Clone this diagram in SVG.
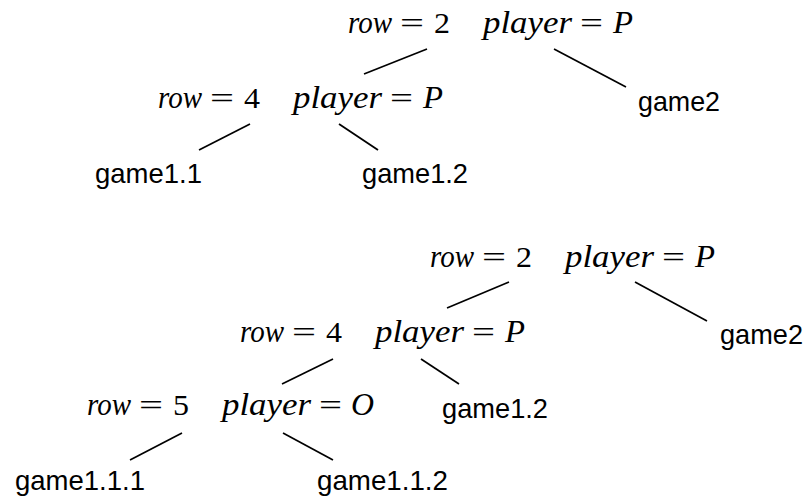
<svg xmlns="http://www.w3.org/2000/svg" width="805" height="500" viewBox="0 0 805 500">
  <style>
    .bg { fill: #ffffff; }
    .mi { font-family: "Liberation Serif", "Times New Roman", serif; font-style: italic; font-size: 31px; fill: #000; }
    .mr { font-family: "Liberation Serif", "Times New Roman", serif; font-size: 30px; fill: #000; }
    .leaf { font-family: "Liberation Sans", Arial, sans-serif; font-size: 28px; fill: #000; }
    .edge { stroke: #000; stroke-width: 1.7; fill: none; stroke-linecap: butt; }
  </style>
  <defs>
    <!-- "row = N  player = X" label pieces, drawn from the label's left edge at the baseline -->
    <g id="eq-row"><text class="mi" x="0" y="0" textLength="44" lengthAdjust="spacingAndGlyphs">row</text><text class="mr" x="52" y="0" textLength="24" lengthAdjust="spacingAndGlyphs">=</text></g>
    <g id="eq-player"><text class="mi" x="135" y="0" textLength="89" lengthAdjust="spacingAndGlyphs">player</text><text class="mr" x="232" y="0" textLength="23" lengthAdjust="spacingAndGlyphs">=</text></g>
  </defs>
  <rect class="bg" x="0" y="0" width="805" height="500"/>

  <!-- first tree -->
  <g id="connectors-a">
    <line class="edge" x1="427" y1="49" x2="364" y2="74"/>
    <line class="edge" x1="554" y1="49" x2="626" y2="87"/>
    <line class="edge" x1="250" y1="124" x2="199" y2="150"/>
    <line class="edge" x1="339" y1="124" x2="378" y2="150"/>
  </g>
  <g id="a-root" transform="translate(348,33)">
    <use href="#eq-row"/>
    <text class="mr" x="86" y="0" textLength="16" lengthAdjust="spacingAndGlyphs">2</text>
    <use href="#eq-player"/>
    <text class="mi" x="265" y="0" textLength="20" lengthAdjust="spacingAndGlyphs">P</text>
  </g>
  <g id="a-row4" transform="translate(158,108)">
    <use href="#eq-row"/>
    <text class="mr" x="86" y="0" textLength="16" lengthAdjust="spacingAndGlyphs">4</text>
    <use href="#eq-player"/>
    <text class="mi" x="265" y="0" textLength="20" lengthAdjust="spacingAndGlyphs">P</text>
  </g>
  <g id="a-game2"><text class="leaf" x="638" y="111" textLength="82" lengthAdjust="spacingAndGlyphs">game2</text></g>
  <g id="a-game1-1"><text class="leaf" x="95" y="183" textLength="107" lengthAdjust="spacingAndGlyphs">game1.1</text></g>
  <g id="a-game1-2"><text class="leaf" x="362" y="183" textLength="106" lengthAdjust="spacingAndGlyphs">game1.2</text></g>

  <!-- second tree -->
  <g id="connectors-b">
    <line class="edge" x1="509" y1="282" x2="447" y2="308"/>
    <line class="edge" x1="635" y1="282" x2="707" y2="321"/>
    <line class="edge" x1="333" y1="359" x2="282" y2="384"/>
    <line class="edge" x1="421" y1="359" x2="459" y2="384"/>
    <line class="edge" x1="182" y1="433" x2="130" y2="460"/>
    <line class="edge" x1="283" y1="433" x2="333" y2="460"/>
  </g>
  <g id="b-root" transform="translate(430,267)">
    <use href="#eq-row"/>
    <text class="mr" x="86" y="0" textLength="16" lengthAdjust="spacingAndGlyphs">2</text>
    <use href="#eq-player"/>
    <text class="mi" x="265" y="0" textLength="20" lengthAdjust="spacingAndGlyphs">P</text>
  </g>
  <g id="b-row4" transform="translate(240,342)">
    <use href="#eq-row"/>
    <text class="mr" x="86" y="0" textLength="16" lengthAdjust="spacingAndGlyphs">4</text>
    <use href="#eq-player"/>
    <text class="mi" x="265" y="0" textLength="20" lengthAdjust="spacingAndGlyphs">P</text>
  </g>
  <g id="b-row5" transform="translate(87,415)">
    <use href="#eq-row"/>
    <text class="mr" x="86" y="0" textLength="16" lengthAdjust="spacingAndGlyphs">5</text>
    <use href="#eq-player"/>
    <text class="mi" x="264" y="0" textLength="23" lengthAdjust="spacingAndGlyphs">O</text>
  </g>
  <g id="b-game2"><text class="leaf" x="720" y="344" textLength="83" lengthAdjust="spacingAndGlyphs">game2</text></g>
  <g id="b-game1-2"><text class="leaf" x="442" y="418" textLength="106" lengthAdjust="spacingAndGlyphs">game1.2</text></g>
  <g id="b-game1-1-1"><text class="leaf" x="15" y="490" textLength="130" lengthAdjust="spacingAndGlyphs">game1.1.1</text></g>
  <g id="b-game1-1-2"><text class="leaf" x="317" y="490" textLength="131" lengthAdjust="spacingAndGlyphs">game1.1.2</text></g>
</svg>
